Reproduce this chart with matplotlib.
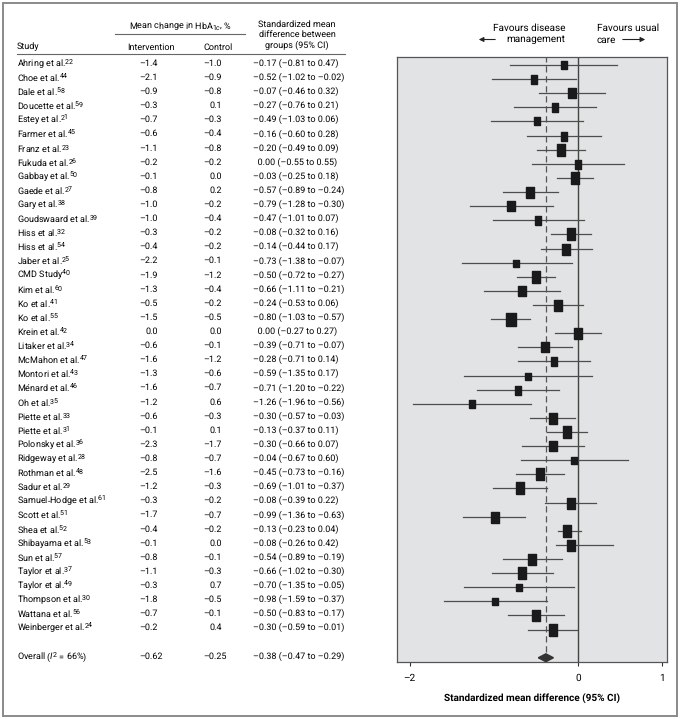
import matplotlib
matplotlib.use("Agg")
import matplotlib.pyplot as plt
from matplotlib import font_manager, transforms
from matplotlib.patches import Rectangle, FancyArrowPatch
from matplotlib.lines import Line2D

# pick a narrow sans if it is there, otherwise Roboto
avail = {f.name for f in font_manager.fontManager.ttflist}
body_font = "Liberation Sans Narrow" if "Liberation Sans Narrow" in avail else "Roboto"
plt.rcParams["font.family"] = [body_font, "DejaVu Sans"]
plt.rcParams["mathtext.fontset"] = "custom"
plt.rcParams["mathtext.rm"] = body_font
plt.rcParams["mathtext.it"] = body_font + ":italic"
plt.rcParams["text.hinting"] = "no_hinting"
plt.rcParams["text.hinting_factor"] = 1

# data
studies = ["Ahring et al.", "Choe et al.", "Dale et al.", "Doucette et al.", "Estey et al.",
           "Farmer et al.", "Franz et al.", "Fukuda et al.", "Gabbay et al.", "Gaede et al.",
           "Gary et al.", "Goudswaard et al.", "Hiss et al.", "Hiss et al.", "Jaber et al.",
           "CMD Study", "Kim et al.", "Ko et al.", "Ko et al.", "Krein et al.",
           "Litaker et al.", "McMahon et al.", "Montori et al.", "Ménard et al.", "Oh et al.",
           "Piette et al.", "Piette et al.", "Polonsky et al.", "Ridgeway et al.", "Rothman et al.",
           "Sadur et al.", "Samuel-Hodge et al.", "Scott et al.", "Shea et al.", "Shibayama et al.",
           "Sun et al.", "Taylor et al.", "Taylor et al.", "Thompson et al.", "Wattana et al.",
           "Weinberger et al."]
refs = [22, 44, 58, 59, 21, 45, 23, 26, 50, 27, 38, 39, 32, 54, 25, 40, 60, 41, 55, 42,
        34, 47, 43, 46, 35, 33, 31, 36, 28, 48, 29, 61, 51, 52, 53, 57, 37, 49, 30, 56, 24]
intervention = [-1.4, -2.1, -0.9, -0.3, -0.7, -0.6, -1.1, -0.2, -0.1, -0.8,
                -1.0, -1.0, -0.3, -0.4, -2.2, -1.9, -1.3, -0.5, -1.5, 0.0,
                -0.6, -1.6, -1.3, -1.6, -1.2, -0.6, -0.1, -2.3, -0.8, -2.5,
                -1.2, -0.3, -1.7, -0.4, -0.1, -0.8, -1.1, -0.3, -1.8, -0.7, -0.2]
control = [-1.0, -0.9, -0.8, 0.1, -0.3, -0.4, -0.8, -0.2, 0.0, 0.2,
           -0.2, -0.4, -0.2, -0.2, -0.1, -1.2, -0.4, -0.2, -0.5, 0.0,
           -0.1, -1.2, -0.6, -0.7, 0.6, -0.3, 0.1, -1.7, -0.7, -1.6,
           -0.3, -0.2, -0.7, -0.2, 0.0, -0.1, -0.3, 0.7, -0.5, -0.1, 0.4]
smd = [-0.17, -0.52, -0.07, -0.27, -0.49, -0.16, -0.20, 0.00, -0.03, -0.57,
       -0.79, -0.47, -0.08, -0.14, -0.73, -0.50, -0.66, -0.24, -0.80, 0.00,
       -0.39, -0.28, -0.59, -0.71, -1.26, -0.30, -0.13, -0.30, -0.04, -0.45,
       -0.69, -0.08, -0.99, -0.13, -0.08, -0.54, -0.66, -0.70, -0.98, -0.50, -0.30]
ci_low = [-0.81, -1.02, -0.46, -0.76, -1.03, -0.60, -0.49, -0.55, -0.25, -0.89,
          -1.28, -1.01, -0.32, -0.44, -1.38, -0.72, -1.11, -0.53, -1.03, -0.27,
          -0.71, -0.71, -1.35, -1.20, -1.96, -0.57, -0.37, -0.66, -0.67, -0.73,
          -1.01, -0.39, -1.36, -0.23, -0.26, -0.89, -1.02, -1.35, -1.59, -0.83, -0.59]
ci_high = [0.47, -0.02, 0.32, 0.21, 0.06, 0.28, 0.09, 0.55, 0.18, -0.24,
           -0.30, 0.07, 0.16, 0.17, -0.07, -0.27, -0.21, 0.06, -0.57, 0.27,
           -0.07, 0.14, 0.17, -0.22, -0.56, -0.03, 0.11, 0.07, 0.60, -0.16,
           -0.37, 0.22, -0.63, 0.04, 0.42, -0.19, -0.30, -0.05, -0.37, -0.17, -0.01]
# study weights, read as box height (px)
weights = [8, 9, 10, 9, 8, 9, 12, 9, 12, 11,
           10, 9, 12, 11, 7, 12, 10, 11, 13, 11,
           10, 9, 7, 9, 8, 11, 12, 10, 7, 12,
           12, 11, 11, 12, 11, 11, 12, 7, 7, 11, 12]
overall = (-0.62, -0.25, -0.38, -0.47, -0.29)

W, H = 680, 719
fig = plt.figure(figsize=(W / 100, H / 100), dpi=100)

def fx(px):
    return px / W

def fy(py):
    return 1 - py / H

ax = fig.add_axes([fx(397), fy(662), fx(667) - fx(397), fy(57) - fy(662)])
ax.set_facecolor("#e2e3e4")

n = len(studies)
rows = list(range(n))
overall_row = n + 1

box = [(-0.37, -0.5), (0.37, -0.5), (0.37, 0.5), (-0.37, 0.5), (-0.37, -0.5)]
ax.axvline(0, color="#444444", lw=1.0, zorder=1)
ax.axvline(overall[2], color="#555555", lw=0.9, ls=(0, (5, 3)), zorder=1)
for i in rows:
    ax.plot([ci_low[i], ci_high[i]], [i, i], color="#4d4d4d", lw=0.9, zorder=2)
    ax.plot(smd[i], i, marker=box, markersize=weights[i] * 0.72,
            color="#1a1a1a", ls="none", zorder=3)
# pooled estimate diamond
d = 0.28
ax.fill([overall[3], overall[2], overall[4], overall[2]],
        [overall_row, overall_row - d, overall_row, overall_row + d],
        color="#333333", zorder=3)

ax.set_xlim(-2.15, 1.06)
ax.set_ylim(overall_row + 0.3, -0.57)
ax.set_xticks([-2, 0, 1])
ax.set_xticklabels(["–2", "0", "1"], fontsize=7.3)
ax.set_yticks([])
ax.tick_params(axis="x", length=3, width=0.8, color="#333333", pad=5)
for s in ax.spines.values():
    s.set_color("#555555")
    s.set_linewidth(0.9)
ax.set_xlabel("Standardized mean difference (95% CI)", fontsize=7.3,
              fontweight="bold", labelpad=8)

# table at left, rows share the axis y scale
tr = transforms.blended_transform_factory(fig.transFigure, ax.transData)
fs = 6.8

def num(v, nd=1):
    s = f"{abs(v):.{nd}f}"
    return ("–" + s) if v < 0 else s

for i in rows:
    fig.text(fx(17), i - 0.12, f"{studies[i]}$^{{{refs[i]}}}$", transform=tr,
             fontsize=fs, va="center", ha="left")
    fig.text(fx(158), i - 0.12, num(intervention[i]), transform=tr, fontsize=fs,
             va="center", ha="right")
    fig.text(fx(222), i - 0.12, num(control[i]), transform=tr, fontsize=fs,
             va="center", ha="right")
    lead = "" if smd[i] < 0 else "\u2002"
    fig.text(fx(253), i - 0.12,
             f"{lead}{num(smd[i], 2)} ({num(ci_low[i], 2)} to {num(ci_high[i], 2)})",
             transform=tr, fontsize=fs, va="center", ha="left")

yo = overall_row - 0.12
fig.text(fx(17), yo, "Overall ($\\mathit{I}^2$ = 66%)", transform=tr,
         fontsize=fs, va="center", ha="left")
fig.text(fx(163), yo, num(overall[0], 2), transform=tr, fontsize=fs,
         va="center", ha="right")
fig.text(fx(227), yo, num(overall[1], 2), transform=tr, fontsize=fs,
         va="center", ha="right")
fig.text(fx(253), yo,
         f"{num(overall[2], 2)} ({num(overall[3], 2)} to {num(overall[4], 2)})",
         transform=tr, fontsize=fs, va="center", ha="left")

# header
fig.text(fx(180), fy(27), "Mean change in HbA$_{1c}$, %", fontsize=fs, ha="center", va="center")
fig.add_artist(Line2D([fx(115), fx(245)], [fy(34), fy(34)], color="#666666", lw=0.8))
fig.text(fx(17), fy(47), "Study", fontsize=fs, ha="left", va="center")
fig.text(fx(151), fy(47), "Intervention", fontsize=fs, ha="center", va="center")
fig.text(fx(218), fy(47), "Control", fontsize=fs, ha="center", va="center")
fig.text(fx(297), fy(35), "Standardized mean\ndifference between\ngroups (95% CI)",
         fontsize=fs, ha="center", va="center", linespacing=1.2)
fig.add_artist(Line2D([fx(17), fx(345)], [fy(54), fy(54)], color="#666666", lw=0.8))

# favours labels
fig.text(fx(565), fy(34), "Favours disease\nmanagement", fontsize=7.2, ha="right",
         va="center", multialignment="right", linespacing=1.25)
fig.text(fx(597), fy(34), "Favours usual\ncare", fontsize=7.2, ha="left",
         va="center", linespacing=1.25)
fig.add_artist(FancyArrowPatch((fx(498), fy(39.5)), (fx(476), fy(39.5)),
               transform=fig.transFigure, arrowstyle="-|>", mutation_scale=7,
               color="#222222", lw=0.8))
fig.add_artist(FancyArrowPatch((fx(620), fy(39.5)), (fx(648), fy(39.5)),
               transform=fig.transFigure, arrowstyle="-|>", mutation_scale=7,
               color="#222222", lw=0.8))

# outer frame
fig.add_artist(Rectangle((fx(3), fy(716)), fx(674), fy(3) - fy(716), transform=fig.transFigure,
                         fill=False, edgecolor="#8a8a8a", lw=1.4))

fig.savefig("out.png", dpi=100)
